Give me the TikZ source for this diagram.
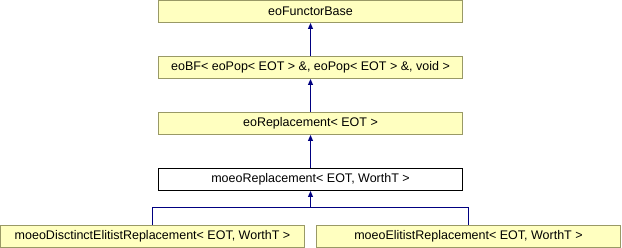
\documentclass[tikz,border=0pt]{standalone}
\usepackage{fontspec}
\setmainfont{Liberation Sans}
\usetikzlibrary{arrows.meta}
\definecolor{boxfill}{HTML}{FFFFC0}
\definecolor{boxline}{HTML}{999966}
\definecolor{edgeblue}{HTML}{000080}
\begin{document}
\begin{tikzpicture}[x=1pt,y=1pt,
  cls/.style={draw=boxline, fill=boxfill, line width=1pt, minimum width=304pt, minimum height=22pt, inner sep=0pt, font=\fontsize{12.5}{14}\selectfont},
  curcls/.style={cls, draw=black, fill=white},
  inh/.style={draw=edgeblue, line width=1pt, -{Triangle[length=6pt,width=5pt]}},
  bus/.style={draw=edgeblue, line width=1pt}]
\useasboundingbox (0,0) rectangle (622,-248);
\node[cls] (fb) at (310.5,-11.5) {eoFunctorBase};
\node[cls] (bf) at (310.5,-67.5) {eoBF< eoPop< EOT > \&, eoPop< EOT > \&, void >};
\node[cls] (rep) at (310.5,-123.5) {eoReplacement< EOT >};
\node[curcls] (mrep) at (310.5,-179.5) {moeoReplacement< EOT, WorthT >};
\node[cls] (dist) at (152.5,-236.5) {moeoDisctinctElitistReplacement< EOT, WorthT >};
\node[cls] (elit) at (468.5,-236.5) {moeoElitistReplacement< EOT, WorthT >};
\draw[inh] (bf) -- (fb);
\draw[inh] (rep) -- (bf);
\draw[inh] (mrep) -- (rep);
\coordinate (j) at (310.5,-208);
\draw[bus] (dist.north) |- (j);
\draw[bus] (elit.north) |- (j);
\draw[inh] (j) -- (mrep.south);
\end{tikzpicture}
\end{document}
